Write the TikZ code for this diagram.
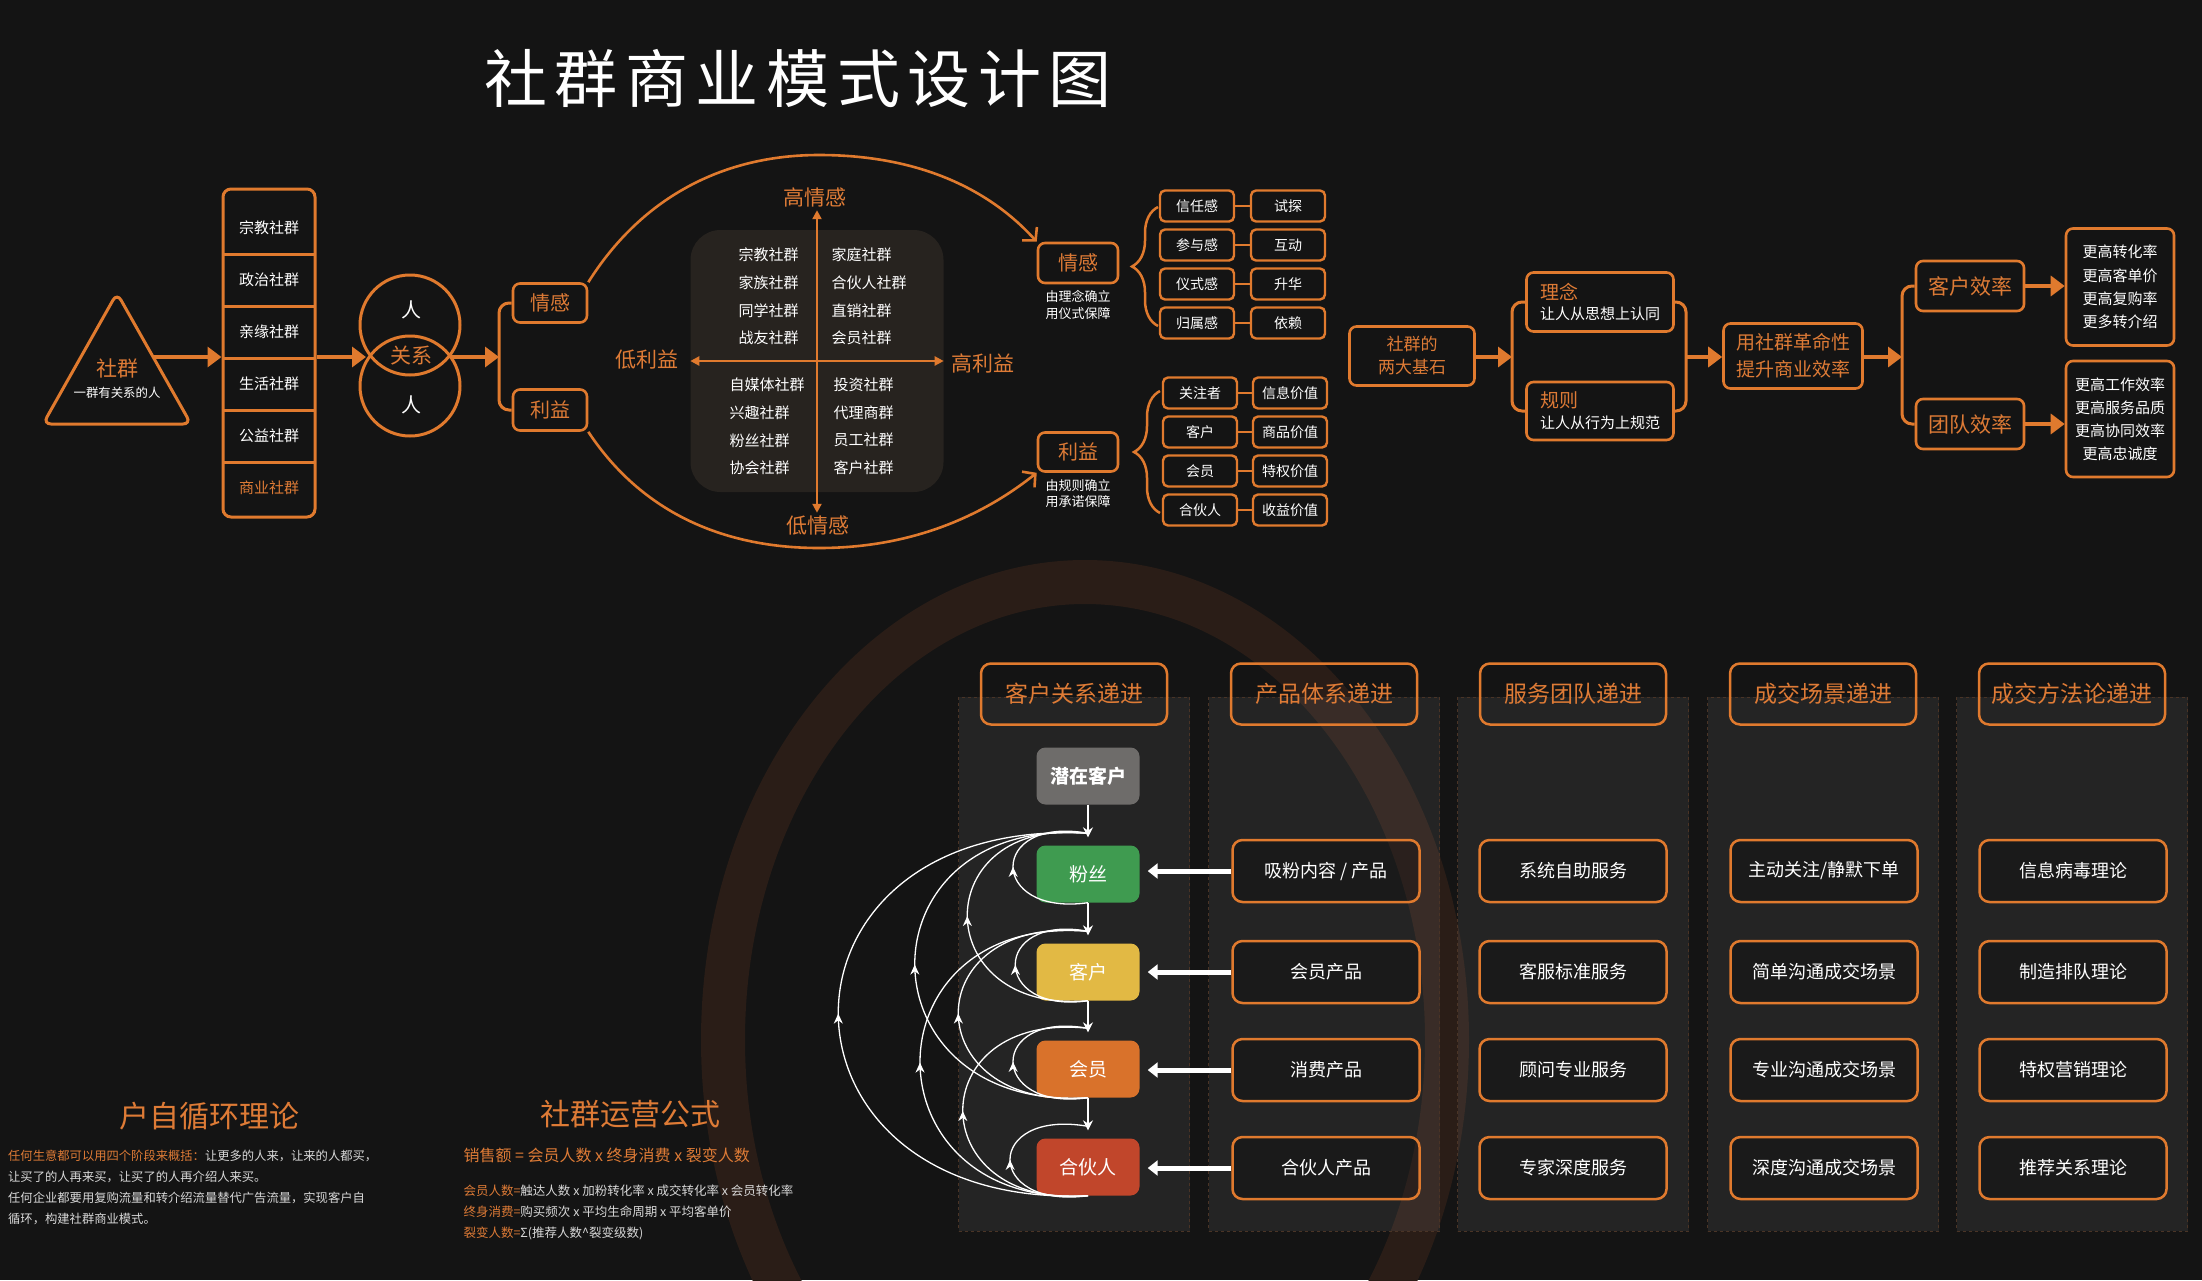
\documentclass[tikz,border=0pt]{standalone}
\usepackage{fontspec}
\setmainfont{Noto Sans CJK SC}
\newfontfamily\titlefont{Noto Sans CJK SC}[LetterSpace=12]
\usetikzlibrary{positioning,arrows.meta,decorations.pathreplacing,decorations.markings}

\definecolor{bgc}{HTML}{141414}
\definecolor{orng}{HTML}{E07A2E}
\definecolor{otext}{HTML}{DE7B36}
\definecolor{qpanel}{HTML}{27231F}
\definecolor{paneledge}{HTML}{4A3426}
\definecolor{ringc}{HTML}{2A1D17}
\definecolor{graytxt}{HTML}{D8D8D8}
\definecolor{cgray}{HTML}{6E6C6A}
\definecolor{cgreen}{HTML}{3F9B50}
\definecolor{cyellow}{HTML}{E2B944}
\definecolor{corange}{HTML}{D9722B}
\definecolor{cred}{HTML}{C1462B}

\newcommand\fs[1]{\fontsize{#1}{\dimexpr#1pt*5/4\relax}\selectfont}

\tikzset{
  obox/.style={draw=orng, line width=2.6pt, rounded corners=7pt, inner sep=2pt, align=center, text=white},
  otxt/.style={text=otext},
  fatarrow/.style={orng, line width=4pt, -{Triangle[length=14pt,width=20pt]}},
  bar/.style={orng, line width=3pt, rounded corners=10pt},
  tag/.style={obox, line width=2.4pt, rounded corners=5pt, minimum width=74pt, minimum height=31pt, font=\fs{14}},
  lane/.style={draw=paneledge, dashed, line width=1pt, fill=white, fill opacity=0.07, minimum width=231pt, minimum height=534pt},
  lanehead/.style={draw=orng, line width=2.5pt, rounded corners=10pt, minimum width=186pt, minimum height=61pt, text=otext, font=\fs{23}},
  cell/.style={draw=orng, line width=2.5pt, rounded corners=10pt, fill=black, fill opacity=0.25, text opacity=1, minimum width=187pt, minimum height=62pt, text=white, font=\fs{18}},
  stage/.style={rounded corners=9pt, minimum width=103pt, minimum height=57pt, text=white, font=\fs{19}},
  vline/.style={white, line width=1.4pt, -{Stealth[length=10pt,width=10pt]}},
  fatw/.style={white, line width=5pt, -{Triangle[length=10pt,width=15pt]}},
  backloop/.style={white, line width=1.3pt, postaction={decorate},
    decoration={markings, mark=at position 0.5 with {\arrow{Stealth[length=10pt,width=9pt]}}}}
}

\begin{document}
\begin{tikzpicture}[x=1pt, y=-1pt, every node/.append style={text=white}]
\fill[bgc] (0,0) rectangle (2202,1280);
\useasboundingbox (0,0) rectangle (2202,1280);
% background ring
\draw[ringc, line width=44pt] (1085,1040) ellipse [x radius=362pt, y radius=458pt];

\node[font=\titlefont\fontsize{63}{70}\selectfont] (title) at (798,79) {社群商业模式设计图};

% community -> types -> relation
\draw[orng, line width=3pt, rounded corners=8pt] (117,293) -- (191,424) -- (43,424) -- cycle;
\node[otxt, font=\fs{21}] (T) at (117,368) {社群};
\node[font=\fs{12.4}] (Tsub) at (117,393) {一群有关系的人};
\coordinate (Tr) at (153,357);

\node[draw=orng, line width=3pt, rounded corners=8pt, minimum width=92pt, minimum height=328pt] (L) at (269,353) {};
\foreach \y in {254,306,358,410,462}
  \draw[orng, line width=3pt] (224,\y) -- (314,\y);
\foreach \t [count=\i from 0] in {宗教社群,政治社群,亲缘社群,生活社群,公益社群}
  \node[font=\fs{15}] at (269,{228+52*\i}) {\t};
\node[otxt, font=\fs{15}] at (269,488) {商业社群};
\draw[fatarrow] (Tr) -- (Tr -| L.west);

\node[draw=orng, line width=3pt, circle, minimum size=100pt] (R1) at (410,325) {};
\node[draw=orng, line width=3pt, circle, minimum size=100pt] (R2) at (410,386) {};
\node[font=\fs{20}] at (411,310) {人};
\node[font=\fs{20}] at (411,405) {人};
\node[otxt, font=\fs{21}] (G) at (411,356) {关系};
\coordinate (Gin) at (366,357);
\coordinate (Gout) at (451,357);
\coordinate (Bk) at (499,357);
\draw[fatarrow] (L.east |- Gin) -- (Gin);
\draw[fatarrow] (Gout) -- (Bk);

\node[obox, otxt, font=\fs{20}, minimum width=74pt, minimum height=39pt] (E1) at (550,303) {情感};
\node[obox, otxt, font=\fs{20}, minimum width=74pt, minimum height=41pt] (E2) at (550,410) {利益};
\draw[bar] (E1.west) -| (Bk) |- (E2.west);

% quadrant
\node[fill=qpanel, rounded corners=30pt, minimum width=253pt, minimum height=262pt] (Q) at (817,361) {};
\node[otxt, font=\fs{21}] (HQ) at (815,197) {高情感};
\node[otxt, font=\fs{21}] (LQ) at (818,526) {低情感};
\node[otxt, font=\fs{21}] (LL) at (647,360) {低利益};
\node[otxt, font=\fs{21}] (HL) at (983,363) {高利益};
\draw[orng, line width=2.4pt, {Triangle[length=9pt,width=9pt]}-{Triangle[length=9pt,width=9pt]}] (Q.west) -- (Q.east);
\draw[orng, line width=2.4pt, {Triangle[length=9pt,width=9pt]}-{Triangle[length=9pt,width=9pt]}] (Q.center |- HQ.south) -- (Q.center |- LQ.north);
\foreach \t [count=\i from 0] in {宗教社群,家族社群,同学社群,战友社群}
  \node[anchor=west, font=\fs{15}] at (735,{255+27.7*\i}) {\t};
\foreach \t [count=\i from 0] in {家庭社群,合伙人社群,直销社群,会员社群}
  \node[anchor=west, font=\fs{15}] at (828,{255+27.7*\i}) {\t};
\foreach \t [count=\i from 0] in {自媒体社群,兴趣社群,粉丝社群,协会社群}
  \node[anchor=west, font=\fs{15}] at (726,{385+27.7*\i}) {\t};
\foreach \t [count=\i from 0] in {投资社群,代理商群,员工社群,客户社群}
  \node[anchor=west, font=\fs{15}] at (830,{385+27.5*\i}) {\t};

% emotion / interest
\node[obox, otxt, font=\fs{20}, minimum width=80pt, minimum height=40pt] (F1) at (1078,263) {情感};
\node[font=\fs{13}, align=center, below=3pt of F1] (F1s) {由理念确立\\用仪式保障};
\node[obox, otxt, font=\fs{20}, minimum width=80pt, minimum height=39pt] (F2) at (1078,452) {利益};
\node[font=\fs{13}, align=center, below=3pt of F2] (F2s) {由规则确立\\用承诺保障};
\draw[orng, line width=2.6pt, -{Straight Barb[length=9pt,width=20pt]}] (E1.north east) .. controls (640,200) and (720,155) .. (819,155) .. controls (920,155) and (990,190) .. (F1.north west);
\draw[orng, line width=2.6pt, -{Straight Barb[length=9pt,width=20pt]}] (E2.south east) .. controls (640,510) and (720,548) .. (819,548) .. controls (920,548) and (990,510) .. (F2.south west);

\draw[orng, line width=2.5pt, decorate, decoration={brace, amplitude=26pt}] (1158,326) -- (1158,207);
\draw[orng, line width=2.5pt, decorate, decoration={brace, amplitude=26pt}] (1160,513) -- (1160,391);
\foreach \a/\b [count=\i from 0] in {信任感/试探, 参与感/互动, 仪式感/升华, 归属感/依赖} {
  \node[tag] (A\i) at (1197,{206+39*\i}) {\a};
  \node[tag] (B\i) at (1288,{206+39*\i}) {\b};
  \draw[orng, line width=2.4pt] (A\i) -- (B\i);
}
\foreach \a/\b [count=\i from 0] in {关注者/信息价值, 客户/商品价值, 会员/特权价值, 合伙人/收益价值} {
  \node[tag] (U\i) at (1200,{393+39*\i}) {\a};
  \node[tag] (W\i) at (1290,{393+39*\i}) {\b};
  \draw[orng, line width=2.4pt] (U\i) -- (W\i);
}

% two cornerstones -> efficiency
\node[obox, otxt, font=\fontsize{17}{23}\selectfont, minimum width=125pt, minimum height=59pt] (S) at (1412,356) {社群的\\两大基石};
\coordinate (B2) at (1512,357);
\draw[fatarrow] (S.east |- B2) -- (B2);
\node[obox, align=left, font=\fs{15}, minimum width=147pt, minimum height=59pt] (P1) at (1600,302) {{\color{otext}\fs{19}理念}\\[2pt]让人从思想上认同};
\node[obox, align=left, font=\fs{15}, minimum width=147pt, minimum height=58pt] (P2) at (1600,411) {{\color{otext}\fs{19}规则}\\[2pt]让人从行为上规范};
\draw[bar] (P1.west) -| (B2) |- (P2.west);
\coordinate (B3) at (1686,357);
\draw[bar] (P1.east) -| (B3) |- (P2.east);
\node[obox, otxt, font=\fontsize{19}{27}\selectfont, minimum width=139pt, minimum height=65pt] (M) at (1793,356) {用社群革命性\\提升商业效率};
\draw[fatarrow] (B3) -- (M.west |- B3);
\coordinate (B4) at (1902,357);
\draw[fatarrow] (M.east |- B4) -- (B4);
\node[obox, otxt, font=\fs{21}, minimum width=108pt, minimum height=50pt] (K1) at (1970,286) {客户效率};
\node[obox, otxt, font=\fs{21}, minimum width=108pt, minimum height=50pt] (K2) at (1970,424) {团队效率};
\draw[bar] (K1.west) -| (B4) |- (K2.west);
\node[obox, font=\fontsize{15}{23.3}\selectfont, minimum width=108pt, minimum height=117pt] (V1) at (2120,287) {更高转化率\\更高客单价\\更高复购率\\更多转介绍};
\node[obox, font=\fontsize{15}{23}\selectfont, minimum width=108pt, minimum height=116pt] (V2) at (2120,419) {更高工作效率\\更高服务品质\\更高协同效率\\更高忠诚度};
\draw[fatarrow] (K1.east) -- (V1.west |- K1.east);
\draw[fatarrow] (K2.east) -- (V2.west |- K2.east);

% lanes
\foreach \cx/\hd [count=\i] in {1074/客户关系递进, 1324/产品体系递进, 1573/服务团队递进, 1823/成交场景递进, 2072/成交方法论递进} {
  \node[lane] (C\i) at (\cx,964) {};
  \node[lanehead] (H\i) at (\cx,694) {\hd};
}

% customer stages
\node[stage, fill=cgray, font=\bfseries\fs{19}] (N0) at (1088,776) {潜在客户};
\foreach \t/\cl/\cy [count=\i] in {粉丝/cgreen/874, 客户/cyellow/972, 会员/corange/1069, 合伙人/cred/1167}
  \node[stage, fill=\cl] (N\i) at (1088,\cy) {\t};
\foreach \k/\j/\c in {1/1/100, 2/1/161, 3/1/231, 4/1/333, 2/2/97, 3/2/173, 4/2/224, 3/3/100, 4/3/167, 4/4/104}
  \draw[backloop] (N\k.south) .. controls ([xshift=-\c*1pt, yshift=-14pt]N\k.south) and ([xshift=-\c*1pt, yshift=30pt]N\j.north) .. ([yshift=12pt]N\j.north);
\foreach \i [evaluate=\i as \j using int(\i+1)] in {0,...,3}
  \draw[vline] (N\i.south) -- ([yshift=8pt]N\j.north);

% lane cells
\foreach \cy/\t [count=\i] in {871/{吸粉内容 / 产品}, 972/会员产品, 1070/消费产品, 1168/合伙人产品} {
  \node[cell] (D\i) at (1326,\cy) {\t};
  \draw[fatw] (D\i.west) -- ([xshift=8pt]N\i.east |- D\i.west);
}
\foreach \cy/\t [count=\i] in {871/系统自助服务, 972/客服标准服务, 1070/顾问专业服务, 1168/专家深度服务}
  \node[cell] (X\i) at (1573,\cy) {\t};
\foreach \cy/\t [count=\i] in {871/{主动关注/静默下单}, 972/简单沟通成交场景, 1070/专业沟通成交场景, 1168/深度沟通成交场景}
  \node[cell] (Y\i) at (1824,\cy) {\t};
\foreach \cy/\t [count=\i] in {871/信息病毒理论, 972/制造排队理论, 1070/特权营销理论, 1168/推荐关系理论}
  \node[cell] (Z\i) at (2073,\cy) {\t};

% bottom-left notes
\node[otxt, font=\fs{30}] (Loop) at (209,1116) {户自循环理论};
\node[anchor=north west, align=left, inner sep=0pt, text=graytxt, font=\fontsize{12.3}{21}\selectfont] (LoopTxt) at (8,1150)
  {{\color{otext}任何生意都可以用四个阶段来概括：}让更多的人来，让来的人都买，\\
   让买了的人再来买，让买了的人再介绍人来买。\\
   任何企业都要用复购流量和转介绍流量替代广告流量，实现客户自\\
   循环，构建社群商业模式。};
\node[otxt, font=\fs{30}] (Ops) at (630,1114) {社群运营公式};
\node[anchor=west, otxt, font=\fs{16}] (Sales) at (460,1155) {销售额 = 会员人数 x 终身消费 x 裂变人数};
\node[anchor=west, text=graytxt, font=\fs{12.5}] (F1x) at (460,1191) {{\color{otext}会员人数=}触达人数 x 加粉转化率 x 成交转化率 x 会员转化率};
\node[anchor=west, text=graytxt, font=\fs{12.5}] (F2x) at (460,1212) {{\color{otext}终身消费=}购买频次 x 平均生命周期 x 平均客单价};
\node[anchor=west, text=graytxt, font=\fs{12.5}] (F3x) at (460,1233) {{\color{otext}裂变人数=}Σ(推荐人数\^{}裂变级数)};
\end{tikzpicture}
\end{document}
